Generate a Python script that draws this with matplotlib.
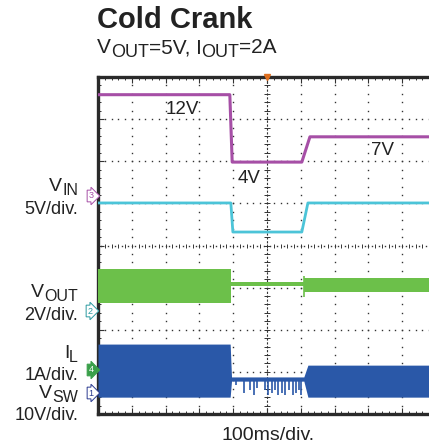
import matplotlib.pyplot as plt
import matplotlib.transforms as mtransforms
import numpy as np

plt.rcParams['font.family'] = ['Liberation Sans', 'DejaVu Sans']

# scope screen: 10 div x 100 ms, 8 vertical divisions
# VIN (ch3, 5V/div) - cold crank profile
vin_t = [0, 390, 397, 603, 627, 1000]
vin_v = [12, 12, 4, 4, 7, 7]
vin_gnd = 5.18
vin_scale = 5.0

# second input trace (cyan), in divisions
cyan_t = [0, 393, 399, 603, 621, 1000]
cyan_div = [5.01, 5.01, 4.32, 4.32, 5.01, 5.01]

# VOUT (ch2, 2V/div) ripple envelope, in divisions
vout_t = [0, 393, 393, 609, 609, 1000]
vout_top = [3.44, 3.44, 3.13, 3.13, 3.23, 3.23]
vout_bot = [2.64, 2.64, 3.04, 3.04, 2.90, 2.90]

# IL / VSW envelope, in divisions
il_t = [0, 391, 395, 609, 621, 1000]
il_top = [1.66, 1.66, 0.88, 0.88, 1.16, 1.16]
il_bot = [0.40, 0.40, 0.78, 0.78, 0.40, 0.40]

# switching bursts while VIN is low
dip_t = [408, 432, 450, 462, 470, 495, 503, 515, 523, 532, 544, 554, 564, 576, 586, 594, 601]
dip_lo = [0.69, 0.49, 0.57, 0.45, 0.61, 0.57, 0.45, 0.49, 0.57, 0.45, 0.49, 0.45, 0.57, 0.45, 0.49, 0.57, 0.45]

c_vin = '#a64fa6'
c_cyan = '#4cc4d8'
c_vout = '#6cc04a'
c_il = '#2a58a8'
c_grid = '#333333'
c_txt = '#222222'

fig = plt.figure(figsize=(4.29, 4.47), dpi=100)
W, H = 429, 447
ax = fig.add_axes([98 / W, 33 / H, 338 / W, 337 / H])
ax.set_xlim(0, 1000)
ax.set_ylim(0, 8)

# graticule
xs = np.arange(0, 1001, 20)
ys = np.arange(0, 8.01, 0.2)
for k in range(1, 8):
    if k == 4:
        continue
    ax.plot(xs, np.full_like(xs, k, dtype=float), ls='none', marker='s', ms=1.0, mew=0, color=c_grid)
for k in range(100, 1000, 100):
    if k == 500:
        continue
    ax.plot(np.full_like(ys, k), ys, ls='none', marker='s', ms=1.0, mew=0, color=c_grid)
ax.axvline(500, color=c_grid, lw=0.8, ls=(0, (2, 1.5)))
ax.plot(np.full_like(ys, 500), ys, ls='none', marker='_', ms=4, mew=0.7, color=c_grid)
ax.plot(xs, np.full_like(xs, 4, dtype=float), ls='none', marker='|', ms=3, mew=0.7, color=c_grid)
ax.plot(xs + 10, np.full_like(xs, 4, dtype=float), ls='none', marker='s', ms=1.0, mew=0, color=c_grid)

# traces
ax.plot(vin_t, [vin_gnd + v / vin_scale for v in vin_v], color=c_vin, lw=2.2, zorder=5)
ax.plot(cyan_t, cyan_div, color=c_cyan, lw=2.0, zorder=5)
ax.fill_between(vout_t, vout_bot, vout_top, color=c_vout, lw=0, zorder=4)
ax.vlines(609, 2.78, 3.28, color=c_vout, lw=1.2, zorder=4)
ax.fill_between(il_t, il_bot, il_top, color=c_il, lw=0, zorder=4)
ax.vlines(dip_t, dip_lo, 0.82, color=c_il, lw=1.2, zorder=4)

# level labels
ax.text(248, 7.22, '12V', ha='center', va='center', fontsize=13.5, color=c_txt)
ax.text(447, 5.6, '4V', ha='center', va='center', fontsize=13.5, color=c_txt)
ax.text(843, 6.25, '7V', ha='center', va='center', fontsize=13.5, color=c_txt)

# trigger marker
ax.plot([500], [8], marker='v', ms=4, color='#e07020', clip_on=False, zorder=6)

ax.set_xticks(np.arange(0, 1001, 100))
ax.set_xticks(xs, minor=True)
ax.set_yticks(np.arange(0, 9, 1))
ax.set_yticks(ys, minor=True)
ax.set_xticklabels([])
ax.set_yticklabels([])
ax.tick_params(which='both', direction='in', top=True, right=True, color=c_grid)
ax.tick_params(which='major', length=4, width=0.8)
ax.tick_params(which='minor', length=2, width=0.7)
for s in ax.spines.values():
    s.set_linewidth(2.4)
    s.set_color('#2a2a2a')

ident = mtransforms.IdentityTransform()
renderer = fig.canvas.get_renderer()


def rich(px, py, parts, ha='left', **kw):
    # parts: (text, fontsize, drop below baseline in px); py is the baseline in image pixels
    placed = []
    x = 0.0
    for s, size, drop in parts:
        t = fig.text(0, 0, s, fontsize=size, va='baseline', transform=ident, color=c_txt, **kw)
        w = t.get_window_extent(renderer).width
        placed.append((t, x, drop))
        x += w
    x0 = px - x if ha == 'right' else (px - x / 2 if ha == 'center' else px)
    for t, xo, drop in placed:
        t.set_position((x0 + xo, H - py - drop))


rich(97, 28, [('Cold Crank', 21, 0)], fontweight='bold')
rich(97, 53, [('V', 15, 0), ('OUT', 13, 4), ('=5V, I', 15, 0), ('OUT', 13, 4), ('=2A', 15, 0)])

rich(78, 191, [('V', 14, 0), ('IN', 11.5, 4)], ha='right')
rich(78, 214, [('5V/div.', 13, 0)], ha='right')
rich(78, 297, [('V', 14, 0), ('OUT', 11.5, 4)], ha='right')
rich(78, 320, [('2V/div.', 13, 0)], ha='right')
rich(78, 358, [('I', 14, 0), ('L', 11.5, 4)], ha='right')
rich(78, 380, [('1A/div.', 13, 0)], ha='right')
rich(78, 398, [('V', 14, 0), ('SW', 11.5, 4)], ha='right')
rich(78, 420, [('10V/div.', 13, 0)], ha='right')
rich(268, 440, [('100ms/div.', 14, 0)], ha='center')

# channel ground markers
tag = dict(ha='center', va='center', fontsize=6.5)
fig.text(91 / W, 1 - 196 / H, '3', color=c_vin,
         bbox=dict(boxstyle='rarrow,pad=0.15', fc='white', ec=c_vin, lw=0.7), **tag)
fig.text(90 / W, 1 - 311 / H, '2', color='#2a9aa0',
         bbox=dict(boxstyle='rarrow,pad=0.15', fc='white', ec='#2a9aa0', lw=0.7), **tag)
fig.text(91 / W, 1 - 370 / H, '4', color='white',
         bbox=dict(boxstyle='rarrow,pad=0.15', fc='#3aa04a', ec='#3aa04a', lw=0.7), **tag)
fig.text(91 / W, 1 - 393 / H, '1', color='#2a3a90',
         bbox=dict(boxstyle='rarrow,pad=0.15', fc='white', ec='#2a3a90', lw=0.7), **tag)

fig.savefig('out.png', dpi=100)
